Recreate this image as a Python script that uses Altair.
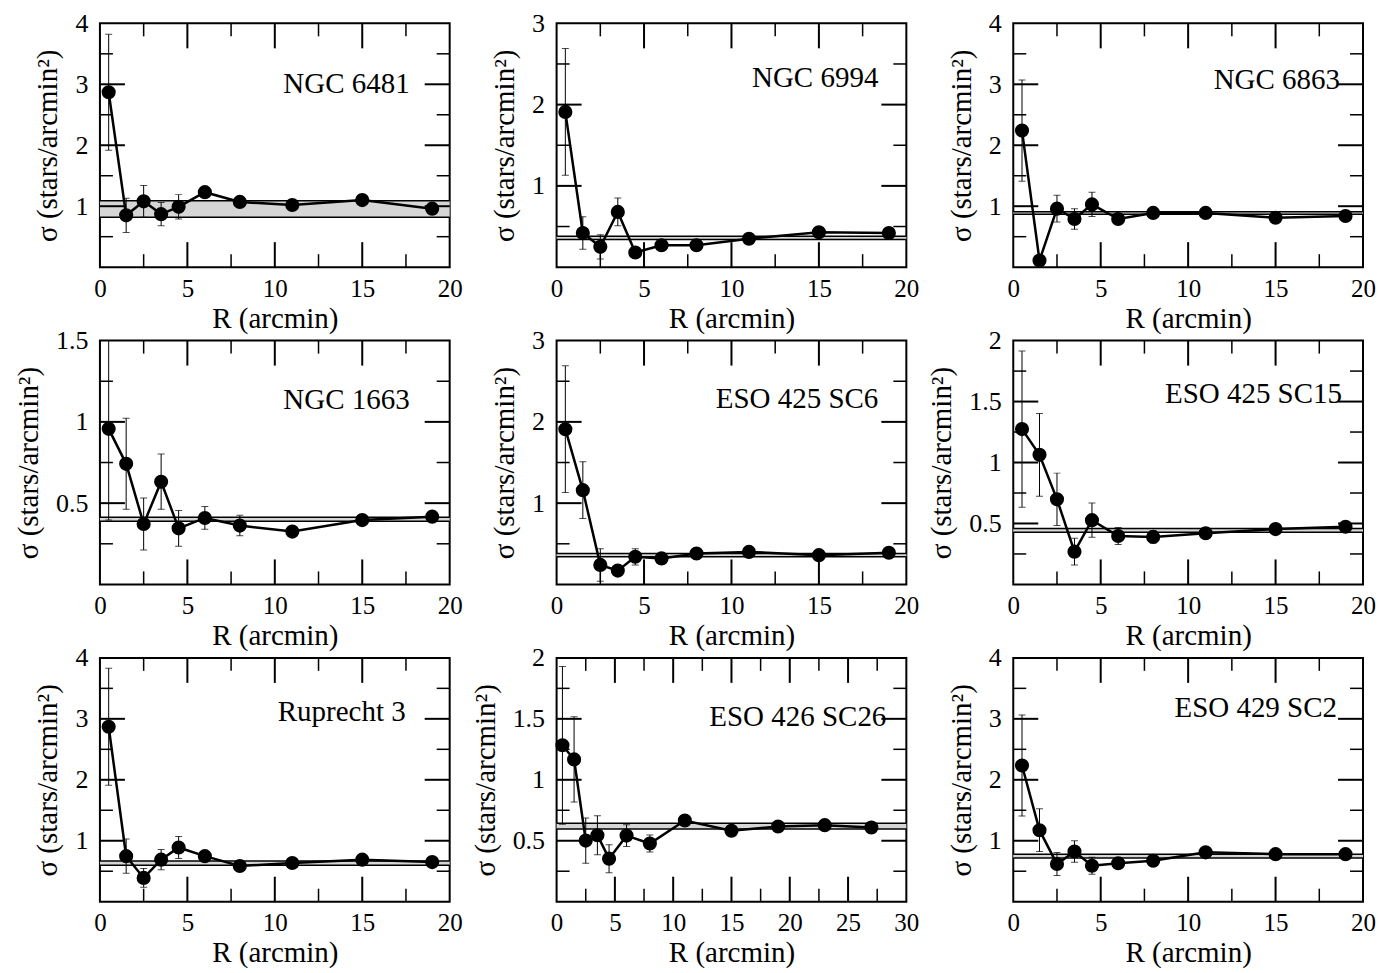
import altair as alt
import pandas as pd

# ---------------- data ----------------
names = ["NGC 6481", "NGC 6994", "NGC 6863",
         "NGC 1663", "ESO 425 SC6", "ESO 425 SC15",
         "Ruprecht 3", "ESO 426 SC26", "ESO 429 SC2"]

R_std = [0.5, 1.5, 2.5, 3.5, 4.5, 6, 8, 11, 15, 19]
R_long = [0.5, 1.5, 2.5, 3.5, 4.5, 6, 8, 11, 15, 19, 23, 27]

sig_6481 = [2.87, 0.85, 1.08, 0.87, 0.99, 1.23, 1.07, 1.02, 1.10, 0.96]
err_6481 = [0.95, 0.28, 0.26, 0.19, 0.20, 0.07, 0.05, 0.05, 0.05, 0.05]
bg_6481 = [0.82, 1.09]

sig_6994 = [1.91, 0.42, 0.25, 0.68, 0.18, 0.27, 0.27, 0.35, 0.43, 0.42]
err_6994 = [0.78, 0.20, 0.15, 0.17, 0.05, 0.05, 0.04, 0.04, 0.04, 0.03]
bg_6994 = [0.34, 0.38]

sig_6863 = [2.24, 0.11, 0.96, 0.79, 1.03, 0.79, 0.89, 0.89, 0.81, 0.84]
err_6863 = [0.83, 0.05, 0.22, 0.17, 0.20, 0.06, 0.05, 0.05, 0.05, 0.05]
bg_6863 = [0.87, 0.91]

sig_1663 = [0.957, 0.742, 0.372, 0.632, 0.345, 0.409, 0.362, 0.325, 0.396, 0.417]
err_1663 = [0.56, 0.28, 0.16, 0.17, 0.11, 0.07, 0.063, 0.02, 0.02, 0.02]
bg_1663 = [0.388, 0.413]

sig_sc6 = [1.91, 1.16, 0.24, 0.17, 0.34, 0.32, 0.38, 0.40, 0.36, 0.39]
err_sc6 = [0.78, 0.35, 0.20, 0.05, 0.10, 0.04, 0.04, 0.03, 0.03, 0.03]
bg_sc6 = [0.34, 0.38]

sig_sc15 = [1.274, 1.063, 0.698, 0.269, 0.527, 0.397, 0.39, 0.42, 0.454, 0.473]
err_sc15 = [0.64, 0.34, 0.215, 0.11, 0.14, 0.07, 0.05, 0.04, 0.03, 0.03]
bg_sc15 = [0.427, 0.459]

sig_rup3 = [2.87, 0.747, 0.39, 0.69, 0.89, 0.747, 0.586, 0.635, 0.69, 0.65]
err_rup3 = [0.96, 0.28, 0.155, 0.165, 0.18, 0.05, 0.04, 0.04, 0.04, 0.04]
bg_rup3 = [0.597, 0.667]

sig_sc26 = [1.283, 1.167, 0.501, 0.545, 0.353, 0.542, 0.477, 0.666, 0.582, 0.617, 0.628, 0.609]
err_sc26 = [0.647, 0.35, 0.186, 0.16, 0.115, 0.09, 0.07, 0.04, 0.03, 0.03, 0.03, 0.03]
bg_sc26 = [0.596, 0.644]

sig_sc2 = [2.234, 1.173, 0.618, 0.823, 0.59, 0.63, 0.672, 0.81, 0.78, 0.78]
err_sc2 = [0.83, 0.35, 0.19, 0.175, 0.14, 0.05, 0.05, 0.05, 0.04, 0.04]
bg_sc2 = [0.715, 0.78]

# axis ranges, tick labels and tick marks
ymax_list = [4, 3, 4, 1.5, 3, 2, 4, 2, 4]
ylab_4 = [1, 2, 3, 4]
ylab_3 = [1, 2, 3]
ylab_15 = [0.5, 1, 1.5]
ylab_2 = [0.5, 1, 1.5, 2]
ymajor_4 = [1, 2, 3]
yminor_4 = [0.5, 1.5, 2.5, 3.5]
ymajor_3 = [1, 2]
yminor_3 = [0.5, 1.5, 2.5]
ymajor_15 = [0.5, 1]
yminor_15 = [0.25, 0.75, 1.25]
ymajor_2 = [0.5, 1, 1.5]
yminor_2 = [0.25, 0.75, 1.25, 1.75]

xlab_20 = [0, 5, 10, 15, 20]
xlab_30 = [0, 5, 10, 15, 20, 25, 30]
xmajor_20 = [5, 10, 15]
xminor_20 = [2.5, 7.5, 12.5, 17.5]
xmajor_30 = [5, 10, 15, 20, 25]
xminor_30 = [2.5, 7.5, 12.5, 17.5, 22.5, 27.5]

panels_data = [
    (R_std, sig_6481, err_6481, bg_6481, 20, ylab_4, ymajor_4, yminor_4),
    (R_std, sig_6994, err_6994, bg_6994, 20, ylab_3, ymajor_3, yminor_3),
    (R_std, sig_6863, err_6863, bg_6863, 20, ylab_4, ymajor_4, yminor_4),
    (R_std, sig_1663, err_1663, bg_1663, 20, ylab_15, ymajor_15, yminor_15),
    (R_std, sig_sc6, err_sc6, bg_sc6, 20, ylab_3, ymajor_3, yminor_3),
    (R_std, sig_sc15, err_sc15, bg_sc15, 20, ylab_2, ymajor_2, yminor_2),
    (R_std, sig_rup3, err_rup3, bg_rup3, 20, ylab_4, ymajor_4, yminor_4),
    (R_long, sig_sc26, err_sc26, bg_sc26, 30, ylab_2, ymajor_2, yminor_2),
    (R_std, sig_sc2, err_sc2, bg_sc2, 20, ylab_4, ymajor_4, yminor_4),
]

# ---------------- layout / style ----------------
W, H = 350, 244
FONT = "Liberation Serif"
MAJ, MIN = 25, 13
# (gap from right edge, baseline from top) for the cluster names
label_pos = [(40, 70), (28, 64), (23, 66), (40, 68), (28, 67), (21, 62),
             (44, 63), (20, 68), (26, 59)]


def make_panel(i):
    R, s, e, bg, xmax, ylab, ymaj, ymin = panels_data[i]
    ymax = ymax_list[i]
    xlab = xlab_30 if xmax == 30 else xlab_20
    xmaj = xmajor_30 if xmax == 30 else xmajor_20
    xmin = xminor_30 if xmax == 30 else xminor_20

    xs = alt.Scale(domain=[0, xmax], nice=False, zero=False)
    ys = alt.Scale(domain=[0, ymax], nice=False, zero=False)
    xaxis = alt.Axis(values=xlab, format="~g", ticks=False, domain=False, grid=False,
                     labelFlush=False, labelPadding=9, titlePadding=3,
                     labelFont=FONT, titleFont=FONT, labelFontSize=25, titleFontSize=29,
                     labelColor="black", titleColor="black", titleFontWeight="normal")
    yaxis = alt.Axis(values=ylab, format="~g", ticks=False, domain=False, grid=False,
                     labelFlush=False, labelPadding=12, titlePadding=12,
                     labelFont=FONT, titleFont=FONT, labelFontSize=26, titleFontSize=29,
                     labelColor="black", titleColor="black", titleFontWeight="normal")

    def X(f):
        return alt.X(f, type="quantitative", scale=xs, axis=xaxis, title="R (arcmin)")

    def Y(f):
        return alt.Y(f, type="quantitative", scale=ys, axis=yaxis,
                     title="σ (stars/arcmin²)")

    df = pd.DataFrame({"R": R, "sigma": s, "err": e})
    df["lo"] = df["sigma"] - df["err"]
    df["hi"] = df["sigma"] + df["err"]

    band = pd.DataFrame({"lo": [bg[0]], "hi": [bg[1]]})
    band_lines = pd.DataFrame({"v": bg})

    layers = []
    layers.append(alt.Chart(band).mark_rect(color="#d6d6d6").encode(
        y=Y("lo"), y2="hi", x=alt.value(0), x2=alt.value(W)))
    layers.append(alt.Chart(band_lines).mark_rule(color="black", strokeWidth=1.5).encode(
        y=Y("v"), x=alt.value(0), x2=alt.value(W)))

    ymaj_df = pd.DataFrame({"v": ymaj})
    ymin_df = pd.DataFrame({"v": ymin})
    xmaj_df = pd.DataFrame({"v": xmaj})
    xmin_df = pd.DataFrame({"v": xmin})
    for d, L, sw in [(ymaj_df, MAJ, 2), (ymin_df, MIN, 1.5)]:
        layers.append(alt.Chart(d).mark_rule(color="black", strokeWidth=sw).encode(
            y=Y("v"), x=alt.value(0), x2=alt.value(L)))
        layers.append(alt.Chart(d).mark_rule(color="black", strokeWidth=sw).encode(
            y=Y("v"), x=alt.value(W - L), x2=alt.value(W)))
    for d, L, sw in [(xmaj_df, MAJ, 2), (xmin_df, MIN, 1.5)]:
        layers.append(alt.Chart(d).mark_rule(color="black", strokeWidth=sw).encode(
            x=X("v"), y=alt.value(H), y2=alt.value(H - L)))
        layers.append(alt.Chart(d).mark_rule(color="black", strokeWidth=sw).encode(
            x=X("v"), y=alt.value(0), y2=alt.value(L)))

    base = alt.Chart(df)
    layers.append(base.mark_rule(color="black", strokeWidth=1, clip=True).encode(
        x=X("R"), y=Y("lo"), y2="hi"))
    layers.append(base.mark_tick(color="black", orient="horizontal", size=7,
                                 thickness=1, clip=True).encode(x=X("R"), y=Y("hi")))
    layers.append(base.mark_tick(color="black", orient="horizontal", size=7,
                                 thickness=1, clip=True).encode(x=X("R"), y=Y("lo")))
    layers.append(base.mark_line(color="black", strokeWidth=2.5).encode(
        x=X("R"), y=Y("sigma")))
    layers.append(base.mark_circle(color="black", size=200, opacity=1).encode(
        x=X("R"), y=Y("sigma")))

    gap, yb = label_pos[i]
    lab = pd.DataFrame({"name": [names[i]]})
    layers.append(alt.Chart(lab).mark_text(align="right", baseline="alphabetic",
                                           font=FONT, fontSize=29, color="black").encode(
        text="name:N", x=alt.value(W - gap), y=alt.value(yb)))

    return alt.layer(*layers).properties(width=W, height=H)


chart = alt.concat(*[make_panel(i) for i in range(9)], columns=3,
                   spacing={"row": 73.5, "column": 107}, bounds="flush").properties(
    padding={"left": 5, "top": 1, "right": 0, "bottom": 0},
    background="white",
).configure_view(stroke="black", strokeWidth=2)

chart.save("out.html", embed_options={"renderer": "svg", "actions": False})
